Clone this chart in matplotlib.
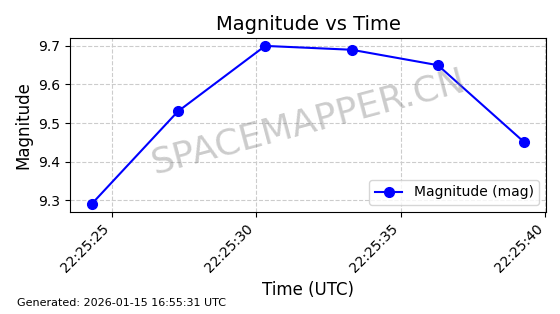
import matplotlib
matplotlib.use("Agg")
import matplotlib.pyplot as plt
import matplotlib.dates as mdates
from datetime import datetime, timedelta

base = datetime(2026, 1, 15, 22, 25, 0)
seconds = [24.31, 27.29, 30.31, 33.30, 36.28, 39.27]
magnitudes = [9.29, 9.53, 9.70, 9.69, 9.65, 9.45]
times = [base + timedelta(seconds=s) for s in seconds]

fig = plt.figure(figsize=(5.6, 3.14), dpi=100)
ax = fig.add_axes([0.125, 0.325, 0.85, 0.554])
ax.plot(times, magnitudes, color="blue", marker="o", markersize=7, linewidth=1.5,
        label="Magnitude (mag)")
ax.set_title("Magnitude vs Time", fontsize=14)
ax.set_xlabel("Time (UTC)", fontsize=12)
ax.set_ylabel("Magnitude", fontsize=12)
ax.xaxis.set_major_locator(mdates.SecondLocator(bysecond=range(0, 60, 5)))
ax.xaxis.set_major_formatter(mdates.DateFormatter("%H:%M:%S"))
plt.setp(ax.get_xticklabels(), rotation=45, ha="right")
ax.set_yticks([9.3, 9.4, 9.5, 9.6, 9.7])
ax.grid(True, linestyle="--", color="#cccccc", linewidth=0.8)
ax.legend(loc="lower right")
ax.text(0.5, 0.515, "SPACEMAPPER.CN", transform=ax.transAxes, fontsize=26,
        color="gray", alpha=0.4, rotation=15, ha="center", va="center")
fig.text(0.03, 0.025, "Generated: 2026-01-15 16:55:31 UTC", fontsize=8)
fig.savefig("out.png", dpi=100)
